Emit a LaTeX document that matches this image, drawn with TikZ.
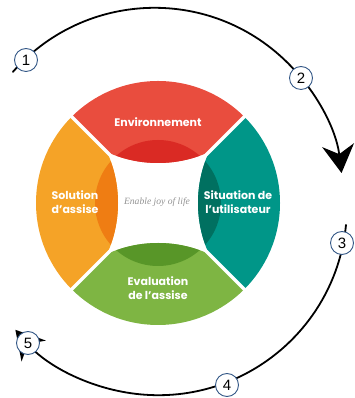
\documentclass[tikz,border=0pt]{standalone}
\usepackage{fontspec}
\setmainfont{Liberation Sans}
\newfontfamily\lblfont{Poppins}
\newfontfamily\scriptf{Liberation Serif}
\usetikzlibrary{arrows.meta,calc}
\definecolor{pRed}{RGB}{233,77,62}
\definecolor{dRed}{RGB}{218,42,36}
\definecolor{pOrange}{RGB}{245,163,39}
\definecolor{dOrange}{RGB}{239,125,19}
\definecolor{pTeal}{RGB}{0,150,136}
\definecolor{dTeal}{RGB}{0,112,96}
\definecolor{pGreen}{RGB}{126,181,67}
\definecolor{dGreen}{RGB}{88,150,40}
\definecolor{numblue}{RGB}{52,88,135}
\begin{document}
\begin{tikzpicture}[x=1pt,y=1pt,
  numc/.style={circle, draw=numblue, fill=white, line width=0.9pt, minimum size=23pt, inner sep=0pt, font=\fontsize{15}{15}\selectfont},
  lbl/.style={text=white, align=center, font=\lblfont\bfseries\fontsize{11}{14}\selectfont},
  cyc/.style={line width=1.8pt, line cap=round},
  bigtip/.style={-{Stealth[length=28pt,width=32pt,inset=9pt]}}]
\useasboundingbox (0,0) rectangle (354,398);
\coordinate (O) at (158,195);
% petals
\foreach \ang/\cl/\dk in {90/pRed/dRed, 0/pTeal/dTeal, 270/pGreen/dGreen, 180/pOrange/dOrange}{
  \begin{scope}
    \clip (O) -- ++(\ang-45:250) -- ++(\ang+90:353.6) -- cycle;
    \clip (O) circle[radius=122];
    \fill[\cl] ($(O)+(\ang:164)$) circle[radius=124];
    \clip (O) circle[radius=63];
    \fill[\dk] ($(O)+(\ang:164)$) circle[radius=124];
  \end{scope}
}
\draw[white, line width=3.5pt] ($(O)+(-140,-140)$) -- ($(O)+(140,140)$);
\draw[white, line width=3.5pt] ($(O)+(-140,140)$) -- ($(O)+(140,-140)$);
% labels
\node[lbl] (env) at (158,276) {Environnement};
\node[lbl] (sol) at (75,196) {Solution\\d’assise};
\node[lbl] (sit) at (238,196) {Situation de\\l’utilisateur};
\node[lbl] (eva) at (158,110) {Evaluation\\de l’assise};
\node[text=gray!85, font=\scriptf\itshape\fontsize{9.6}{10}\selectfont] (joy) at (157,196) {Enable joy of life};
% cycle arcs
\coordinate (C1) at (154.5,201.7);
\coordinate (C2) at (158.2,191.5);
\coordinate (s1) at ($(C1)+(138.7:188.5)$);
\coordinate (s2) at ($(C2)+(-5.6:188.7)$);
\draw[cyc, bigtip] (s1) arc[start angle=138.7, end angle=7.1, radius=188.5];
\draw[cyc, bigtip] (s2) arc[start angle=-5.6, end angle=-139.2, radius=188.7];
% step markers
\node[numc] (n1) at (26,338) {1};
\node[numc] (n2) at (301,320) {2};
\node[numc] (n3) at (342,155) {3};
\node[numc] (n4) at (227,13) {4};
\node[numc] (n5) at (28,55) {5};
\end{tikzpicture}
\end{document}
